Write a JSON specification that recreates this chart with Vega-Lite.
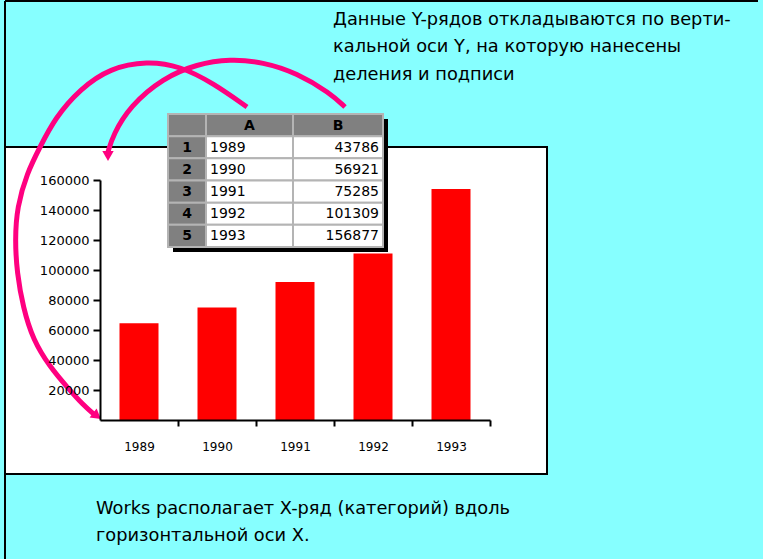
{
  "$schema": "https://vega.github.io/schema/vega-lite/v6.json",
  "width": 390,
  "height": 240,
  "autosize": {"type": "none"},
  "padding": {"left": 100, "top": 180, "right": 273, "bottom": 139},
  "background": "#86ffff",
  "config": {"view": {"stroke": null}, "font": "DejaVu Sans"},
  "datasets": {
    "bars": [
      {"year": "1989", "value": 64500},
      {"year": "1990", "value": 75000},
      {"year": "1991", "value": 92000},
      {"year": "1992", "value": 111000},
      {"year": "1993", "value": 154000}
    ],
    "table": [
      {"r": 0, "c": 0, "role": "corner", "label": ""},
      {"r": 0, "c": 1, "role": "header", "label": "A"},
      {"r": 0, "c": 2, "role": "header", "label": "B"},
      {"r": 1, "c": 0, "role": "rownum", "label": "1"},
      {"r": 2, "c": 0, "role": "rownum", "label": "2"},
      {"r": 3, "c": 0, "role": "rownum", "label": "3"},
      {"r": 4, "c": 0, "role": "rownum", "label": "4"},
      {"r": 5, "c": 0, "role": "rownum", "label": "5"},
      {"r": 1, "c": 1, "role": "A", "label": "1989"},
      {"r": 2, "c": 1, "role": "A", "label": "1990"},
      {"r": 3, "c": 1, "role": "A", "label": "1991"},
      {"r": 4, "c": 1, "role": "A", "label": "1992"},
      {"r": 5, "c": 1, "role": "A", "label": "1993"},
      {"r": 1, "c": 2, "role": "B", "label": "43786"},
      {"r": 2, "c": 2, "role": "B", "label": "56921"},
      {"r": 3, "c": 2, "role": "B", "label": "75285"},
      {"r": 4, "c": 2, "role": "B", "label": "101309"},
      {"r": 5, "c": 2, "role": "B", "label": "156877"}
    ],
    "arrows": [
      {"id": "outer", "i": 0, "x": 247, "y": 107},
      {"id": "outer", "i": 1, "x": 213, "y": 83},
      {"id": "outer", "i": 2, "x": 180, "y": 66},
      {"id": "outer", "i": 3, "x": 147, "y": 61},
      {"id": "outer", "i": 4, "x": 110, "y": 68},
      {"id": "outer", "i": 5, "x": 80, "y": 89},
      {"id": "outer", "i": 6, "x": 55, "y": 118},
      {"id": "outer", "i": 7, "x": 40, "y": 147},
      {"id": "outer", "i": 8, "x": 27, "y": 173},
      {"id": "outer", "i": 9, "x": 17, "y": 207},
      {"id": "outer", "i": 10, "x": 15, "y": 240},
      {"id": "outer", "i": 11, "x": 17, "y": 273},
      {"id": "outer", "i": 12, "x": 23, "y": 307},
      {"id": "outer", "i": 13, "x": 33, "y": 340},
      {"id": "outer", "i": 14, "x": 50, "y": 367},
      {"id": "outer", "i": 15, "x": 67, "y": 387},
      {"id": "outer", "i": 16, "x": 83, "y": 405},
      {"id": "outer", "i": 17, "x": 96, "y": 416},
      {"id": "inner", "i": 0, "x": 345, "y": 107},
      {"id": "inner", "i": 1, "x": 330, "y": 93},
      {"id": "inner", "i": 2, "x": 297, "y": 73},
      {"id": "inner", "i": 3, "x": 263, "y": 62},
      {"id": "inner", "i": 4, "x": 230, "y": 59},
      {"id": "inner", "i": 5, "x": 197, "y": 64},
      {"id": "inner", "i": 6, "x": 163, "y": 78},
      {"id": "inner", "i": 7, "x": 130, "y": 106},
      {"id": "inner", "i": 8, "x": 113, "y": 135},
      {"id": "inner", "i": 9, "x": 108, "y": 152}
    ],
    "heads": [
      {"id": "inner", "x": 108, "y": 156, "angle": 180},
      {"id": "outer", "x": 97, "y": 416, "angle": 128}
    ],
    "frame": [
      {"x": 5, "y": 1, "x2": 758, "y2": 1},
      {"x": 5, "y": 1, "x2": 5, "y2": 559}
    ],
    "box": [
      {"x": 5, "y": 147, "x2": 547, "y2": 474}
    ],
    "notes": [
      {"x": 333, "y": 20, "text": "Данные Y-рядов откладываются по верти-"},
      {"x": 333, "y": 47, "text": "кальной оси Y, на которую нанесены"},
      {"x": 333, "y": 75, "text": "деления и подписи"},
      {"x": 96, "y": 509, "text": "Works располагает X-ряд (категорий) вдоль"},
      {"x": 96, "y": 536, "text": "горизонтальной оси X."}
    ]
  },
  "resolve": {"scale": {"x": "independent", "y": "independent"}},
  "layer": [
    {
      "data": {"name": "frame"},
      "mark": {"type": "rule", "stroke": "#000000", "strokeWidth": 2},
      "encoding": {
        "x": {"field": "x", "type": "quantitative", "scale": {"domain": [0, 763], "range": [-100, 663], "nice": false, "zero": false}, "axis": null},
        "x2": {"field": "x2"},
        "y": {"field": "y", "type": "quantitative", "scale": {"domain": [0, 559], "range": [-180, 379], "nice": false, "zero": false}, "axis": null},
        "y2": {"field": "y2"}
      }
    },
    {
      "data": {"name": "box"},
      "mark": {"type": "rect", "fill": "#ffffff", "stroke": "#000000", "strokeWidth": 2},
      "encoding": {
        "x": {"field": "x", "type": "quantitative", "scale": {"domain": [0, 763], "range": [-100, 663], "nice": false, "zero": false}, "axis": null},
        "x2": {"field": "x2"},
        "y": {"field": "y", "type": "quantitative", "scale": {"domain": [0, 559], "range": [-180, 379], "nice": false, "zero": false}, "axis": null},
        "y2": {"field": "y2"}
      }
    },
    {
      "data": {"name": "bars"},
      "mark": {"type": "bar", "color": "#ff0000"},
      "encoding": {
        "x": {
          "field": "year", "type": "ordinal",
          "scale": {"paddingInner": 0.5, "paddingOuter": 0.25},
          "axis": {
            "title": null, "labelAngle": 0, "zindex": 1,
            "domainColor": "#000000", "domainWidth": 2,
            "tickColor": "#000000", "tickWidth": 2, "tickSize": 6, "tickOffset": 39, "labelOffset": -39,
            "labelFont": "DejaVu Sans", "labelFontSize": 12, "labelColor": "#000000", "labelPadding": 15
          }
        },
        "y": {
          "field": "value", "type": "quantitative",
          "scale": {"domain": [0, 160000], "nice": false},
          "axis": {
            "title": null, "zindex": 1, "grid": false, "format": "d",
            "values": [20000, 40000, 60000, 80000, 100000, 120000, 140000, 160000],
            "domainColor": "#000000", "domainWidth": 2,
            "tickColor": "#000000", "tickWidth": 2, "tickSize": 7,
            "labelFont": "DejaVu Sans", "labelFontSize": 13, "labelColor": "#000000", "labelPadding": 4
          }
        }
      }
    },
    {
      "data": {"name": "table"},
      "transform": [{"filter": "datum.r == 0 && datum.c == 0"}, {"calculate": "3", "as": "c2"}, {"calculate": "6", "as": "r2"}],
      "mark": {"type": "rect", "fill": "#000000"},
      "encoding": {
        "x": {"field": "c", "type": "quantitative", "scale": {"domain": [0, 3], "range": [73, 288], "nice": false, "zero": false}, "axis": null},
        "x2": {"field": "c2"},
        "y": {"field": "r", "type": "quantitative", "scale": {"domain": [0, 6], "range": [-61, 72], "nice": false, "zero": false}, "axis": null},
        "y2": {"field": "r2"}
      }
    },
    {
      "data": {"name": "table"},
      "transform": [{"calculate": "datum.c + 1", "as": "c2"}, {"calculate": "datum.r + 1", "as": "r2"}],
      "mark": {"type": "rect", "stroke": "#b4b4b4", "strokeWidth": 2},
      "encoding": {
        "x": {"field": "c", "type": "quantitative", "scale": {"domain": [0, 1, 2, 3], "range": [68, 106, 193, 283], "nice": false, "zero": false}, "axis": null},
        "x2": {"field": "c2"},
        "y": {"field": "r", "type": "quantitative", "scale": {"domain": [0, 6], "range": [-66, 67], "nice": false, "zero": false}, "axis": null},
        "y2": {"field": "r2"},
        "fill": {"field": "role", "type": "nominal", "scale": {"domain": ["corner", "header", "rownum", "A", "B"], "range": ["#808080", "#808080", "#808080", "#ffffff", "#ffffff"]}, "legend": null}
      }
    },
    {
      "data": {"name": "table"},
      "transform": [{"filter": "datum.role == 'header' || datum.role == 'rownum'"}],
      "mark": {"type": "text", "align": "center", "baseline": "middle", "font": "DejaVu Sans", "fontSize": 14, "fontWeight": "bold", "color": "#000000"},
      "encoding": {
        "x": {"field": "c", "type": "quantitative", "scale": {"domain": [0, 1, 2], "range": [87, 149.5, 238], "nice": false, "zero": false}, "axis": null},
        "y": {"field": "r", "type": "quantitative", "scale": {"domain": [0, 5], "range": [-54.5, 56], "nice": false, "zero": false}, "axis": null},
        "text": {"field": "label"}
      }
    },
    {
      "data": {"name": "table"},
      "transform": [{"filter": "datum.role == 'A'"}],
      "mark": {"type": "text", "align": "left", "baseline": "middle", "font": "DejaVu Sans", "fontSize": 14, "color": "#000000"},
      "encoding": {
        "x": {"field": "c", "type": "quantitative", "scale": {"domain": [0, 1], "range": [72, 110], "nice": false, "zero": false}, "axis": null},
        "y": {"field": "r", "type": "quantitative", "scale": {"domain": [0, 5], "range": [-54.5, 56], "nice": false, "zero": false}, "axis": null},
        "text": {"field": "label"}
      }
    },
    {
      "data": {"name": "table"},
      "transform": [{"filter": "datum.role == 'B'"}],
      "mark": {"type": "text", "align": "right", "baseline": "middle", "font": "DejaVu Sans", "fontSize": 14, "color": "#000000"},
      "encoding": {
        "x": {"field": "c", "type": "quantitative", "scale": {"domain": [0, 2], "range": [0, 279], "nice": false, "zero": false}, "axis": null},
        "y": {"field": "r", "type": "quantitative", "scale": {"domain": [0, 5], "range": [-54.5, 56], "nice": false, "zero": false}, "axis": null},
        "text": {"field": "label"}
      }
    },
    {
      "data": {"name": "arrows"},
      "mark": {"type": "line", "interpolate": "basis", "stroke": "#ff0080", "strokeWidth": 5, "strokeCap": "butt"},
      "encoding": {
        "x": {"field": "x", "type": "quantitative", "scale": {"domain": [0, 763], "range": [-100, 663], "nice": false, "zero": false}, "axis": null},
        "y": {"field": "y", "type": "quantitative", "scale": {"domain": [0, 559], "range": [-180, 379], "nice": false, "zero": false}, "axis": null},
        "detail": {"field": "id"},
        "order": {"field": "i", "type": "quantitative"}
      }
    },
    {
      "data": {"name": "heads"},
      "mark": {"type": "point", "shape": "triangle-up", "filled": true, "fill": "#ff0080", "size": 130, "opacity": 1},
      "encoding": {
        "x": {"field": "x", "type": "quantitative", "scale": {"domain": [0, 763], "range": [-100, 663], "nice": false, "zero": false}, "axis": null},
        "y": {"field": "y", "type": "quantitative", "scale": {"domain": [0, 559], "range": [-180, 379], "nice": false, "zero": false}, "axis": null},
        "angle": {"field": "angle", "type": "quantitative", "scale": null}
      }
    },
    {
      "data": {"name": "notes"},
      "mark": {"type": "text", "align": "left", "baseline": "middle", "font": "DejaVu Sans", "fontSize": 17.8, "color": "#000000"},
      "encoding": {
        "x": {"field": "x", "type": "quantitative", "scale": {"domain": [0, 763], "range": [-100, 663], "nice": false, "zero": false}, "axis": null},
        "y": {"field": "y", "type": "quantitative", "scale": {"domain": [0, 559], "range": [-180, 379], "nice": false, "zero": false}, "axis": null},
        "text": {"field": "text"}
      }
    }
  ]
}
